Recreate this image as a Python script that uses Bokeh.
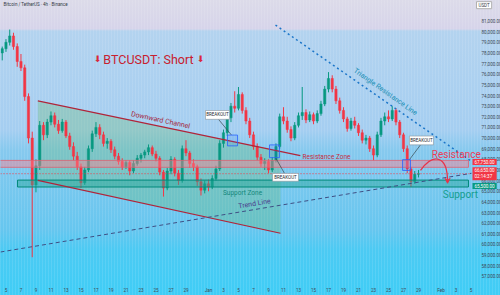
import pandas as pd
from bokeh.plotting import figure
from bokeh.models import (ColumnDataSource, Range1d, FixedTicker, NumeralTickFormatter,
                          Label, Arrow, VeeHead, LinearAxis)
from bokeh.core.properties import value
from bokeh.embed import file_html
from bokeh.resources import INLINE

# ---------------- data ----------------
candle_start = "2024-12-04 12:00"   # 12h candles
opens = [78000, 78400, 79000, 79600, 78600, 77200, 76600, 73900, 70000, 65600,
         67400, 71200, 70300, 71500, 72100, 71300, 70700, 71500, 70200, 69200,
         68300, 67300, 65800, 67000, 69000, 70400, 71000, 70300, 69500, 69700,
         68900, 68300, 67800, 67300, 67700, 66900, 67600, 68100, 68400, 68700,
         69100, 68500, 68100, 66800, 65300, 66900, 68000, 66700, 66000, 69000,
         68600, 67600, 67300, 65900, 65100, 65700, 65400, 66200, 67100, 69500,
         70500, 71900, 73000, 72800, 74100, 72600, 71600, 70300, 69200, 68200,
         67600, 67800, 67000, 67900, 69200, 72000, 71600, 70800, 70000, 71200,
         72100, 72400, 71700, 72200, 71600, 72300, 73200, 74600, 75600, 74600,
         73500, 72600, 71800, 70900, 71600, 71200, 70500, 69800, 70000, 69000,
         68400, 70300, 71600, 72000, 71800, 72600, 71500, 70300, 69000, 67100,
         65900, 66600]
highs = [78600, 79300, 80200, 79900, 78900, 77900, 76900, 74200, 70600, 68000,
         71600, 71500, 71800, 72500, 72400, 71700, 71800, 71700, 70500, 69600,
         68700, 67600, 67300, 69300, 70700, 71500, 71300, 70600, 70000, 69900,
         69200, 68600, 68100, 67900, 67900, 67900, 68400, 68600, 68900, 69400,
         69300, 68800, 68300, 67000, 67200, 68300, 68200, 67000, 69300, 69800,
         68800, 68000, 67500, 66200, 66000, 66100, 66500, 67400, 69800, 70800,
         72200, 73300, 74400, 74800, 74300, 72900, 71900, 70600, 69500, 68500,
         68100, 68000, 68200, 69500, 72300, 72900, 72000, 71100, 71500, 72400,
         74800, 72700, 72500, 72400, 72600, 73500, 74900, 76200, 75900, 74900,
         73800, 72900, 72000, 71900, 72000, 71400, 70800, 70300, 70200, 69300,
         70600, 71900, 72400, 72600, 73000, 72800, 71700, 70500, 69300, 67300,
         66900, 67000]
lows = [77300, 78100, 78700, 78300, 76700, 76300, 73500, 69500, 58800, 64900,
        67000, 69800, 70000, 71200, 71000, 70400, 70500, 70000, 68900, 67900,
        67000, 65300, 65600, 66800, 68700, 70100, 69900, 69200, 69000, 68600,
        68000, 67500, 67000, 67100, 66500, 66700, 67400, 67700, 68100, 68400,
        68300, 67800, 66500, 64500, 65100, 66600, 66400, 65600, 65800, 68300,
        67200, 66900, 65500, 64600, 64800, 65000, 65200, 66000, 66900, 69100,
        70200, 71500, 72400, 72600, 72300, 71300, 70000, 68900, 67900, 67300,
        67000, 66700, 66800, 67700, 69000, 71300, 70500, 69700, 69800, 71000,
        71700, 71400, 71500, 71300, 71400, 72100, 73000, 74300, 74300, 73200,
        72300, 71500, 70600, 70700, 70900, 70200, 69500, 69400, 68700, 67900,
        68200, 70100, 71200, 71500, 71600, 71200, 70000, 68700, 66700, 65400,
        65700, 66300]
closes = [78400, 79000, 79600, 78600, 77200, 76600, 73900, 70000, 65600, 67400,
          71200, 70300, 71500, 72100, 71300, 70700, 71500, 70200, 69200, 68300,
          67300, 65800, 67000, 69000, 70400, 71000, 70300, 69500, 69700, 68900,
          68300, 67800, 67300, 67700, 66900, 67600, 68100, 68400, 68700, 69100,
          68500, 68100, 66800, 65300, 66900, 68000, 66700, 66000, 69000, 68600,
          67600, 67300, 65900, 65100, 65700, 65400, 66200, 67100, 69500, 70500,
          71900, 73000, 72800, 74100, 72600, 71600, 70300, 69200, 68200, 67600,
          67800, 67000, 67900, 69200, 72000, 71600, 70800, 70000, 71200, 72100,
          72400, 71700, 72200, 71600, 72300, 73200, 74600, 75600, 74600, 73500,
          72600, 71800, 70900, 71600, 71200, 70500, 69800, 70000, 69000, 68400,
          70300, 71600, 72000, 71800, 72600, 71500, 70300, 69000, 67100, 65900,
          66600, 66650]

view_start, view_end = "2024-12-04 06:30", "2025-02-08 22:30"
price_axis_at = "2025-02-05 01:40"
price_low, price_high = 56800, 82930
price_ticks = list(range(57000, 82000, 1000))

x_tick_dates = ["2024-12-05", "2024-12-07", "2024-12-09", "2024-12-11", "2024-12-13",
                "2024-12-15", "2024-12-17", "2024-12-19", "2024-12-21", "2024-12-23",
                "2024-12-25", "2024-12-27", "2024-12-29", "2025-01-01", "2025-01-03",
                "2025-01-05", "2025-01-07", "2025-01-09", "2025-01-11", "2025-01-13",
                "2025-01-15", "2025-01-17", "2025-01-19", "2025-01-21", "2025-01-23",
                "2025-01-25", "2025-01-27", "2025-01-29", "2025-02-01", "2025-02-03",
                "2025-02-05"]
x_tick_labels = ["5", "7", "9", "11", "13", "15", "17", "19", "21", "23", "25", "27", "29",
                 "Jan", "3", "5", "7", "9", "11", "13", "15", "17", "19", "21", "23", "25",
                 "27", "29", "Feb", "3", "5"]

# drawings (time, price)
channel_upper_t = ["2024-12-09 06:00", "2025-01-13 06:00"]
channel_upper_p = [73500, 68350]
channel_lower_t = ["2024-12-09 06:00", "2025-01-10 14:30"]
channel_lower_p = [66030, 61050]
channel_fill_top_right = 68740

resistance_zone_t = ["2024-12-01 00:00", "2025-02-04 16:00"]
resistance_zone_p = [67250, 67900]
support_zone_t = ["2024-12-06 13:00", "2025-02-04 16:00"]
support_zone_p = [65400, 66050]

trend_t = ["2024-12-04 06:30", "2025-02-05 01:40"]
trend_p = [59290, 66690]
triangle_t = ["2025-01-09 22:30", "2025-02-05 01:40"]
triangle_p = [80620, 67810]

bo_left = ["2024-12-31 14:30", "2025-01-09 13:00", "2025-01-27 19:00"]
bo_right = ["2025-01-03 19:00", "2025-01-13 00:00", "2025-01-31 00:00"]
bo_bottom = [71760, 65940, 69360]
bo_top = [72590, 66680, 70190]
bo_line_t0 = ["2025-01-02 08:00", "2025-01-11 03:20", "2025-01-29 06:30"]
bo_line_p0 = [71760, 66680, 69360]
bo_line_t1 = ["2025-01-04 01:40", "2025-01-09 22:30", "2025-01-27 19:00"]
bo_line_p1 = [70280, 68160, 67970]
bo_mark_left = ["2025-01-03 13:00", "2025-01-09 03:20", "2025-01-26 21:00"]
bo_mark_right = ["2025-01-04 21:00", "2025-01-10 11:15", "2025-01-27 22:30"]
bo_mark_bottom = [69265, 68157, 66957]
bo_mark_top = [70281, 69357, 67973]

proj_t = ["2025-01-29 06:30", "2025-01-30 21:00", "2025-02-01 21:00", "2025-02-01 21:00"]
proj_p = [66960, 68530, 68530, 65900]

resistance_label_price = 67750
support_label_price = 65500
countdown = "02:14:37"

title_t, title_p = "2024-12-24 00:00", 77390
arrow_l_t, arrow_r_t = "2024-12-17 05:00", "2024-12-30 22:30"

texts = [
    ("Downward Channel", "2024-12-25 14:30", 71670, -0.211, "7px", "#a3243a"),
    ("Resistance Zone", "2025-01-16 17:45", 68250, 0.0, "6.5px", "#c62a40"),
    ("Support Zone", "2025-01-05 13:00", 64830, 0.0, "6.5px", "#13877a"),
    ("Trend Line", "2025-01-07 03:20", 63820, 0.168, "7px", "#4b3c8c"),
    ("Triangle Resistance Line", "2025-01-24 14:25", 74340, -0.616, "7px", "#1a8fb5"),
    ("Resistance", "2025-02-03 01:00", 68430, 0.0, "10px", "#ee3a55"),
    ("Support", "2025-02-03 14:00", 64740, 0.0, "10px", "#139e8e"),
]

# ---------------- style ----------------
UP, DOWN = "#089981", "#f23645"
FONT = "Roboto"
T = pd.Timestamp


def ms(s):
    return pd.Timestamp(s).value / 1e6


times = pd.date_range(candle_start, periods=len(closes), freq="12h")

p = figure(width=500, height=295, x_axis_type="datetime", y_axis_location=None,
           x_range=Range1d(T(view_start), T(view_end)),
           y_range=Range1d(price_low, price_high),
           output_backend="svg", toolbar_location=None,
           min_border_left=0, min_border_top=0, min_border_right=0, min_border_bottom=12)
p.background_fill_alpha = 0
p.border_fill_alpha = 0
p.outline_line_color = None
p.grid.visible = False
p.styles = {"background": (
    "repeating-linear-gradient(90deg, rgba(255,255,255,0.10) 0px, rgba(255,255,255,0.10) 1px,"
    " rgba(255,255,255,0) 1px, rgba(255,255,255,0) 3px),"
    " linear-gradient(180deg, #dcdbe9 0px, #d6d4ea 29px, #b3d3ef 31px, #a5cef1 130px,"
    " #86c9ee 150px, #66c6ef 230px, #4ccaf3 250px, #3fcdf6 295px)")}

# price axis, pinned at the right edge of the candle area
yaxis = LinearAxis(fixed_location=ms(price_axis_at), ticker=FixedTicker(ticks=price_ticks),
                   formatter=NumeralTickFormatter(format="0,0.00"))
p.add_layout(yaxis, "right")
p.xaxis.ticker = FixedTicker(ticks=[ms(d) for d in x_tick_dates])
p.xaxis.major_label_overrides = {ms(d): lab for d, lab in zip(x_tick_dates, x_tick_labels)}
for ax in (p.xaxis[0], yaxis):
    ax.axis_line_color = None
    ax.major_tick_line_color = None
    ax.minor_tick_line_color = None
    ax.major_label_text_font_size = "4.6px"
    ax.major_label_text_color = "#3e4a56"
    ax.major_label_text_font = FONT
yaxis.major_label_standoff = 4
p.xaxis.major_label_standoff = 3

# channel fill (under candles)
p.patch(x=[T(channel_upper_t[0]), T(channel_lower_t[1]), T(channel_lower_t[1]), T(channel_lower_t[0])],
        y=[channel_upper_p[0], channel_fill_top_right, channel_lower_p[1], channel_lower_p[0]],
        fill_color="#66bb6a", fill_alpha=0.3, line_color=None)

# candles
colors = [UP if c >= o else DOWN for o, c in zip(opens, closes)]
src = ColumnDataSource(dict(t=times, o=opens, h=highs, l=lows, c=closes,
                            top=[max(o, c) for o, c in zip(opens, closes)],
                            bot=[min(o, c) for o, c in zip(opens, closes)],
                            color=colors))
p.segment(x0="t", y0="l", x1="t", y1="h", source=src, line_color="color", line_width=1)
p.vbar(x="t", width=12 * 3600 * 1000 * 0.6, top="top", bottom="bot", source=src,
       fill_color="color", line_color="color", line_width=0.5)

# zones
p.quad(left=[T(resistance_zone_t[0])], right=[T(resistance_zone_t[1])],
       bottom=[resistance_zone_p[0]], top=[resistance_zone_p[1]],
       fill_color="#ff7f8f", fill_alpha=0.45, line_color="#e06070", line_width=1, line_alpha=0.8)
p.quad(left=[T(support_zone_t[0])], right=[T(support_zone_t[1])],
       bottom=[support_zone_p[0]], top=[support_zone_p[1]],
       fill_color="#26a69a", fill_alpha=0.45, line_color="#00897b", line_width=1)

# channel lines
p.line(x=[T(t) for t in channel_upper_t], y=channel_upper_p, line_color="#b0243a", line_width=1.2)
p.line(x=[T(t) for t in channel_lower_t], y=channel_lower_p, line_color="#b0243a", line_width=1.2)

# trend line & triangle resistance line
p.line(x=[T(t) for t in trend_t], y=trend_p, line_color="#3f4f84", line_width=1, line_dash="4 3")
p.line(x=[T(t) for t in triangle_t], y=triangle_p, line_color="#1b75c8", line_width=1.5,
       line_dash="2 3")

# last price line
p.line(x=[T(view_start), T(price_axis_at)], y=[closes[-1], closes[-1]], line_color=DOWN,
       line_width=1, line_dash="1 2")

# breakout callouts
p.segment(x0=[T(t) for t in bo_line_t0], y0=bo_line_p0, x1=[T(t) for t in bo_line_t1],
          y1=bo_line_p1, line_color="#37474f", line_width=0.7)
p.quad(left=[T(t) for t in bo_mark_left], right=[T(t) for t in bo_mark_right],
       bottom=bo_mark_bottom, top=bo_mark_top, fill_color="#2962ff", fill_alpha=0.12,
       line_color="#2962ff", line_width=0.8)
p.quad(left=[T(t) for t in bo_left], right=[T(t) for t in bo_right], bottom=bo_bottom,
       top=bo_top, fill_color="white", line_color="#8a949c", line_width=0.6)
p.text(x=[T(a) + (T(b) - T(a)) / 2 for a, b in zip(bo_left, bo_right)],
       y=[(a + b) / 2 for a, b in zip(bo_bottom, bo_top)], text=["BREAKOUT"] * 3,
       text_font=value(FONT), text_font_size="4.5px", text_color="#1e2a33",
       text_align="center", text_baseline="middle")

# projection curve
RED = "#e8334a"
p.bezier(x0=[T(proj_t[0])], y0=[proj_p[0]], cx0=[T(proj_t[1])], cy0=[proj_p[1]],
         cx1=[T(proj_t[2])], cy1=[proj_p[2]], x1=[T(proj_t[3])], y1=[proj_p[3]],
         line_color=RED, line_width=1.3)
p.add_layout(Arrow(end=VeeHead(size=5, line_color=RED, fill_color=RED, line_width=1),
                   x_start=ms(proj_t[3]), y_start=proj_p[3] + 300,
                   x_end=ms(proj_t[3]), y_end=proj_p[3] - 150,
                   line_color=RED, line_width=1.3))

# text labels
for txt, t, pr, ang, size, col in texts:
    p.text(x=[T(t)], y=[pr], text=[txt], angle=ang, text_font=value(FONT),
           text_font_size=size, text_color=col, text_align="center", text_baseline="middle")

# title
p.text(x=[T(title_t)], y=[title_p], text=["BTCUSDT: Short"], text_font=value(FONT),
       text_font_size="12.5px", text_color="#c8202e", text_align="center",
       text_baseline="middle")
p.text(x=[T(arrow_l_t), T(arrow_r_t)], y=[title_p, title_p], text=["\u2b07", "\u2b07"],
       text_font=value("DejaVu Sans"), text_font_size="9px", text_color="#d8283a",
       text_align="center", text_baseline="middle")

# header + axis badges
p.add_layout(Label(x=3, y=82515, x_units="screen", y_units="data",
                   text="Bitcoin / TetherUS \u00b7 4h \u00b7 Binance", text_font=FONT,
                   text_font_size="4.5px", text_color="#333a44", text_baseline="middle"))
p.add_layout(Label(x=476, y=82490, x_units="screen", y_units="data", text="USDT",
                   text_font=FONT, text_font_size="4.5px", text_color="#333a44",
                   text_baseline="middle", background_fill_color="white",
                   border_line_color="#b0b0b0", padding=(2, 1)))
for pr, txt, col in [(resistance_label_price, f"{resistance_label_price:,.2f}", DOWN),
                     (closes[-1], f"{closes[-1]:,.2f}\n{countdown}", DOWN),
                     (support_label_price, f"{support_label_price:,.2f}", UP)]:
    p.add_layout(Label(x=472, y=pr, x_units="screen", y_units="data", text=txt,
                       text_font=FONT, text_font_size="4.6px", text_color="white",
                       text_baseline="middle", background_fill_color=col, padding=(2, 1)))

open("out.html", "w").write(file_html(p, INLINE))
